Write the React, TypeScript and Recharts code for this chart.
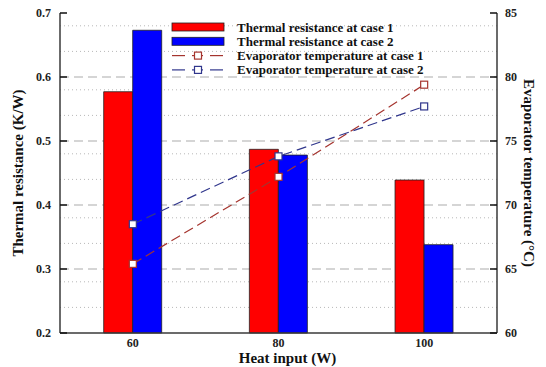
import {
  ComposedChart,
  Bar,
  Line,
  XAxis,
  YAxis,
  CartesianGrid,
  Legend,
} from "recharts";

const heatInput = ["60", "80", "100"];
const resistanceCase1 = [0.577, 0.487, 0.439];
const resistanceCase2 = [0.673, 0.478, 0.338];
const tempCase1 = [65.4, 72.2, 79.4];
const tempCase2 = [68.5, 73.8, 77.7];

const leftTicks = [0.2, 0.3, 0.4, 0.5, 0.6, 0.7];
const rightTicks = [60, 65, 70, 75, 80, 85];
const majorLines = [0.3, 0.4, 0.5, 0.6];
const minorLines = [
  0.22, 0.24, 0.26, 0.28, 0.32, 0.34, 0.36, 0.38, 0.42, 0.44, 0.46, 0.48,
  0.52, 0.54, 0.56, 0.58, 0.62, 0.64, 0.66, 0.68,
];

const data = heatInput.map((h, i) => ({
  heat: h,
  r1: resistanceCase1[i],
  r2: resistanceCase2[i],
  t1: tempCase1[i],
  t2: tempCase2[i],
}));

const FONT = "'Liberation Serif', 'Times New Roman', serif";
const AXIS = "#3a3a3a";
const RED = "#ff0000";
const BLUE = "#0000ff";
const LINE1 = "#a5342e";
const LINE2 = "#30368c";

const tickStyle = { fill: "#222", fontSize: 12, fontWeight: 700, fontFamily: FONT };
const titleStyle = { fill: "#111", fontSize: 15, fontWeight: 700, fontFamily: FONT };

const squareDot = (color: string) => (props: any) => {
  const { cx, cy, index } = props;
  return (
    <rect
      key={`sq-${color}-${index}`}
      x={cx - 3.5}
      y={cy - 3.5}
      width={7}
      height={7}
      fill="#fff"
      stroke={color}
      strokeWidth={1.2}
    />
  );
};

const legendItems = [
  { label: "Thermal resistance at case 1", kind: "bar", color: RED },
  { label: "Thermal resistance at case 2", kind: "bar", color: BLUE },
  { label: "Evaporator temperature at case 1", kind: "line", color: LINE1 },
  { label: "Evaporator temperature at case 2", kind: "line", color: LINE2 },
];

const renderLegend = () => (
  <svg width={280} height={62} style={{ display: "block" }}>
    {legendItems.map((it, i) => {
      const y = 7 + i * 14.3;
      return (
        <g key={it.label}>
          {it.kind === "bar" ? (
            <rect x={1} y={y - 4} width={52} height={8} fill={it.color} stroke="#222" strokeWidth={0.8} />
          ) : (
            <g>
              <line x1={1} x2={14} y1={y} y2={y} stroke={it.color} strokeWidth={1.2} />
              <line x1={21} x2={32} y1={y} y2={y} stroke={it.color} strokeWidth={1.2} />
              <rect x={23.5} y={y - 3.5} width={7} height={7} fill="#fff" stroke={it.color} strokeWidth={1.2} />
              <line x1={39} x2={52} y1={y} y2={y} stroke={it.color} strokeWidth={1.2} />
            </g>
          )}
          <text
            x={66}
            y={y}
            dominantBaseline="central"
            fontFamily={FONT}
            fontWeight={700}
            fontSize={13}
            fill="#111"
          >
            {it.label}
          </text>
        </g>
      );
    })}
  </svg>
);

export default function App() {
  return (
    <div style={{ width: 546, height: 367, background: "#fff", position: "relative" }}>
      <style>{`body{margin:0}`}</style>
      <ComposedChart
        width={546}
        height={367}
        data={data}
        margin={{ top: 13, right: 0, bottom: 0, left: 20 }}
        barCategoryGap="30%"
        barGap={0}
      >
        <CartesianGrid
          yAxisId="left"
          vertical={false}
          horizontalValues={minorLines}
          stroke="#b8b8b8"
          strokeWidth={1}
          strokeDasharray="1 3"
        />
        <CartesianGrid
          yAxisId="left"
          vertical={false}
          horizontalValues={majorLines}
          stroke="#c8c8c8"
          strokeWidth={1.5}
          strokeDasharray="9 5"
        />
        <XAxis
          dataKey="heat"
          height={34}
          tick={tickStyle}
          tickLine={false}
          tickSize={0}
          tickMargin={5}
          axisLine={{ stroke: AXIS, strokeWidth: 1.5 }}
          label={{
            value: "Heat input (W)",
            position: "insideBottom",
            offset: 4,
            dx: 9,
            style: titleStyle,
          }}
        />
        <XAxis
          xAxisId="top"
          dataKey="heat"
          orientation="top"
          height={0}
          tick={false}
          tickLine={false}
          axisLine={{ stroke: AXIS, strokeWidth: 1.5 }}
        />
        <YAxis
          yAxisId="left"
          width={40}
          domain={[0.2, 0.7]}
          ticks={leftTicks}
          tickFormatter={(v) => v.toFixed(1)}
          tick={tickStyle}
          tickSize={-7}
          tickMargin={16}
          tickLine={{ stroke: "#111", strokeWidth: 1.5 }}
          axisLine={{ stroke: AXIS, strokeWidth: 1.5 }}
          label={{
            value: "Thermal resistance (K/W)",
            angle: -90,
            position: "center",
            dx: -22,
            style: titleStyle,
          }}
        />
        <YAxis
          yAxisId="right"
          orientation="right"
          width={49}
          domain={[60, 85]}
          ticks={rightTicks}
          tick={{ ...tickStyle, textAnchor: "start" }}
          tickSize={-7}
          tickMargin={15}
          tickLine={{ stroke: "#111", strokeWidth: 1.5 }}
          axisLine={{ stroke: AXIS, strokeWidth: 1.5 }}
          label={{
            value: "Evaporator temperature (°C)",
            angle: 90,
            position: "center",
            dx: 8,
            style: titleStyle,
          }}
        />
        <Legend
          layout="vertical"
          align="center"
          verticalAlign="middle"
          content={renderLegend}
          wrapperStyle={{ position: "absolute", left: 171, top: 20, width: 280, height: 62 }}
        />
        <Bar yAxisId="left" dataKey="r1" fill={RED} stroke="#222" strokeWidth={0.8} isAnimationActive={false} />
        <Bar yAxisId="left" dataKey="r2" fill={BLUE} stroke="#222" strokeWidth={0.8} isAnimationActive={false} />
        <Line
          yAxisId="right"
          dataKey="t1"
          stroke={LINE1}
          strokeWidth={1.2}
          strokeDasharray="10 5"
          dot={squareDot(LINE1)}
          isAnimationActive={false}
        />
        <Line
          yAxisId="right"
          dataKey="t2"
          stroke={LINE2}
          strokeWidth={1.2}
          strokeDasharray="10 5"
          dot={squareDot(LINE2)}
          isAnimationActive={false}
        />
      </ComposedChart>
    </div>
  );
}
